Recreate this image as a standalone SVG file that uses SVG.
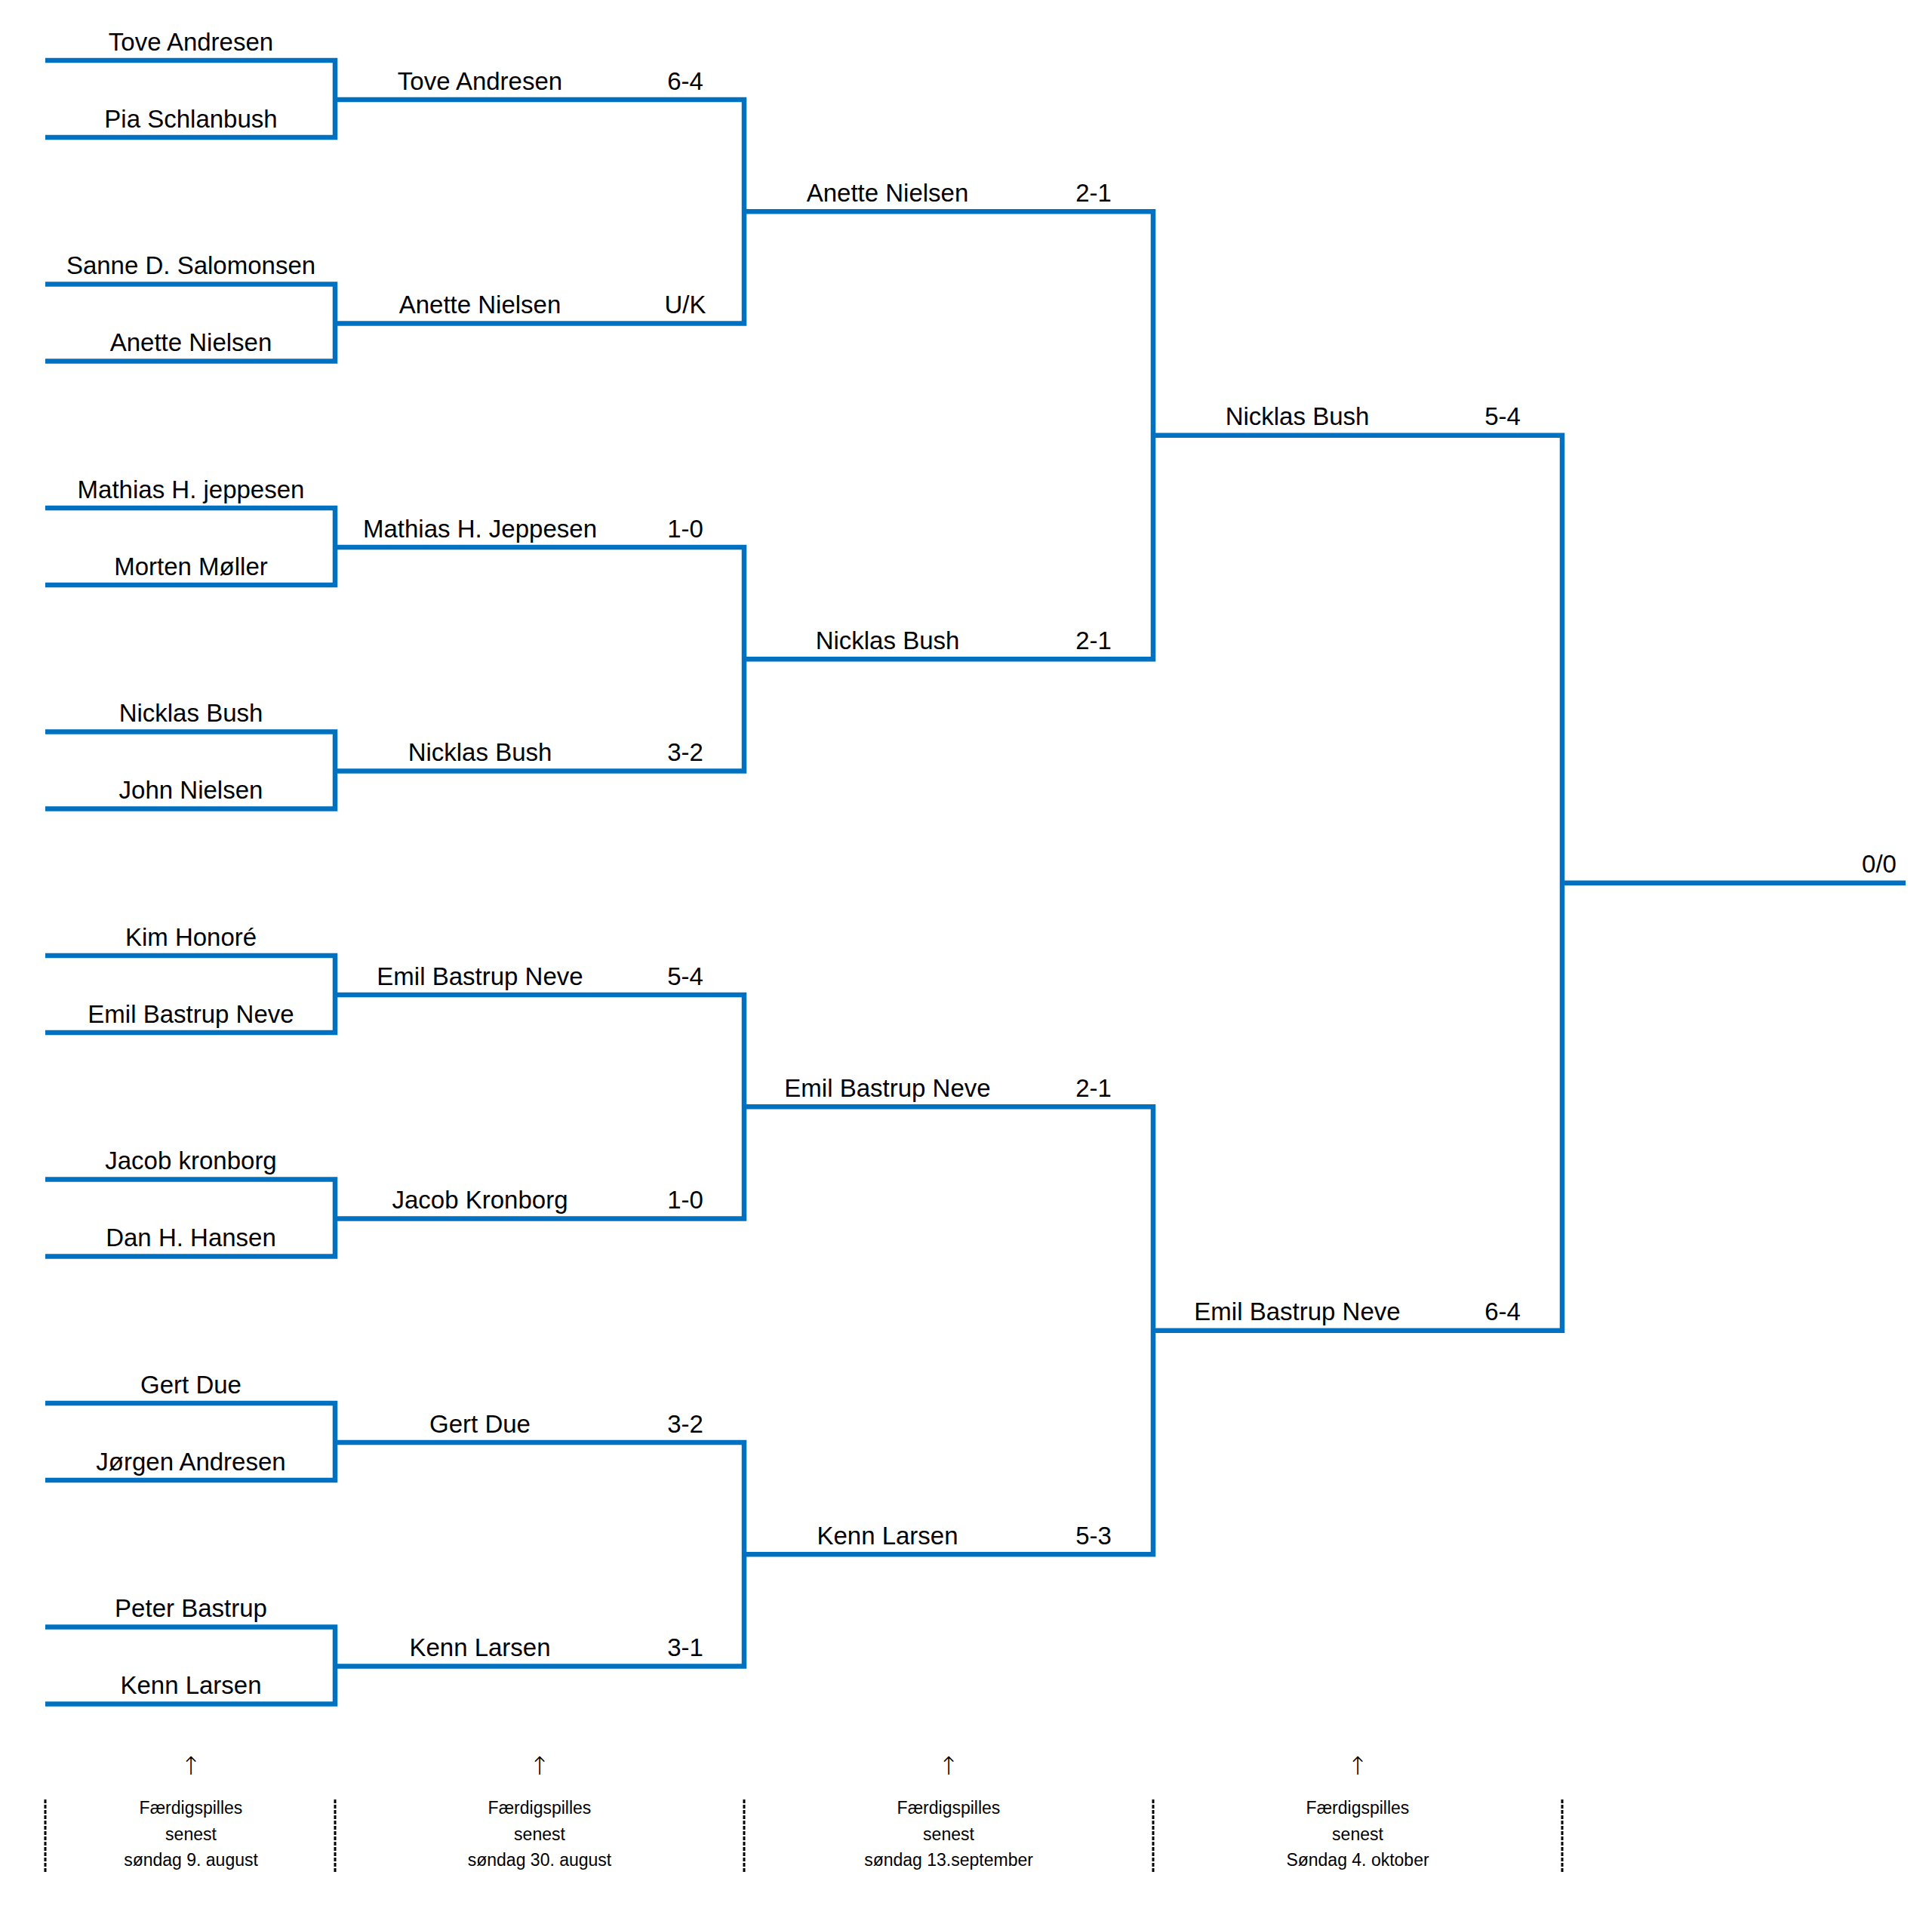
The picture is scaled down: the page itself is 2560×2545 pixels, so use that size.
<svg xmlns="http://www.w3.org/2000/svg" width="2560" height="2545" viewBox="0 0 2560 2545">
<style>
  .ln { fill: none; stroke: #0070C0; stroke-width: 6.5; stroke-linejoin: miter; stroke-linecap: butt; }
  .dl { stroke: #000000; stroke-width: 3; stroke-dasharray: 5 2; }
  text { font-family: "Liberation Sans", Arial, sans-serif; fill: #000000; text-anchor: middle; }
  .nm { font-size: 33px; }
  .ft { font-size: 23px; }
  .ar { font-family: "DejaVu Sans", "Liberation Sans", sans-serif; font-size: 33px; font-weight: 200; }
</style>
<rect x="0" y="0" width="2560" height="2545" fill="#ffffff"/>

<g id="connectors">
  <path class="ln" d="M60,80 H444 V182 H60"/>
  <path class="ln" d="M60,376.5 H444 V478.5 H60"/>
  <path class="ln" d="M60,673 H444 V775 H60"/>
  <path class="ln" d="M60,969.5 H444 V1071.5 H60"/>
  <path class="ln" d="M60,1266 H444 V1368 H60"/>
  <path class="ln" d="M60,1562.5 H444 V1664.5 H60"/>
  <path class="ln" d="M60,1859 H444 V1961 H60"/>
  <path class="ln" d="M60,2155.5 H444 V2257.5 H60"/>
  <path class="ln" d="M444,132 H986 V428.5 H444"/>
  <path class="ln" d="M444,725 H986 V1021.5 H444"/>
  <path class="ln" d="M444,1318 H986 V1614.5 H444"/>
  <path class="ln" d="M444,1911 H986 V2207.5 H444"/>
  <path class="ln" d="M986,280.25 H1528 V873.25 H986"/>
  <path class="ln" d="M986,1466.25 H1528 V2059.25 H986"/>
  <path class="ln" d="M1528,576.75 H2070 V1762.75 H1528"/>
  <path class="ln" d="M2070,1169.75 H2525"/>
</g>

<g id="round1">
  <g id="r1-1"><text class="nm" x="253" y="66.5">Tove Andresen</text><text class="nm" x="253" y="168.5">Pia Schlanbush</text></g>
  <g id="r1-2"><text class="nm" x="253" y="363">Sanne D. Salomonsen</text><text class="nm" x="253" y="465">Anette Nielsen</text></g>
  <g id="r1-3"><text class="nm" x="253" y="659.5">Mathias H. jeppesen</text><text class="nm" x="253" y="761.5">Morten Møller</text></g>
  <g id="r1-4"><text class="nm" x="253" y="956">Nicklas Bush</text><text class="nm" x="253" y="1058">John Nielsen</text></g>
  <g id="r1-5"><text class="nm" x="253" y="1252.5">Kim Honoré</text><text class="nm" x="253" y="1354.5">Emil Bastrup Neve</text></g>
  <g id="r1-6"><text class="nm" x="253" y="1549">Jacob kronborg</text><text class="nm" x="253" y="1651">Dan H. Hansen</text></g>
  <g id="r1-7"><text class="nm" x="253" y="1845.5">Gert Due</text><text class="nm" x="253" y="1947.5">Jørgen Andresen</text></g>
  <g id="r1-8"><text class="nm" x="253" y="2142">Peter Bastrup</text><text class="nm" x="253" y="2244">Kenn Larsen</text></g>
</g>

<g id="round2">
  <g id="r2-1"><text class="nm" x="636" y="118.5">Tove Andresen</text><text class="nm" x="908" y="118.5">6-4</text></g>
  <g id="r2-2"><text class="nm" x="636" y="415">Anette Nielsen</text><text class="nm" x="908" y="415">U/K</text></g>
  <g id="r2-3"><text class="nm" x="636" y="711.5">Mathias H. Jeppesen</text><text class="nm" x="908" y="711.5">1-0</text></g>
  <g id="r2-4"><text class="nm" x="636" y="1008">Nicklas Bush</text><text class="nm" x="908" y="1008">3-2</text></g>
  <g id="r2-5"><text class="nm" x="636" y="1304.5">Emil Bastrup Neve</text><text class="nm" x="908" y="1304.5">5-4</text></g>
  <g id="r2-6"><text class="nm" x="636" y="1601">Jacob Kronborg</text><text class="nm" x="908" y="1601">1-0</text></g>
  <g id="r2-7"><text class="nm" x="636" y="1897.5">Gert Due</text><text class="nm" x="908" y="1897.5">3-2</text></g>
  <g id="r2-8"><text class="nm" x="636" y="2194">Kenn Larsen</text><text class="nm" x="908" y="2194">3-1</text></g>
</g>

<g id="round3">
  <g id="r3-1"><text class="nm" x="1176" y="267">Anette Nielsen</text><text class="nm" x="1449" y="267">2-1</text></g>
  <g id="r3-2"><text class="nm" x="1176" y="860">Nicklas Bush</text><text class="nm" x="1449" y="860">2-1</text></g>
  <g id="r3-3"><text class="nm" x="1176" y="1453">Emil Bastrup Neve</text><text class="nm" x="1449" y="1453">2-1</text></g>
  <g id="r3-4"><text class="nm" x="1176" y="2046">Kenn Larsen</text><text class="nm" x="1449" y="2046">5-3</text></g>
</g>

<g id="round4">
  <g id="r4-1"><text class="nm" x="1719" y="563">Nicklas Bush</text><text class="nm" x="1991" y="563">5-4</text></g>
  <g id="r4-2"><text class="nm" x="1719" y="1749">Emil Bastrup Neve</text><text class="nm" x="1991" y="1749">6-4</text></g>
</g>

<g id="final"><text class="nm" x="2490" y="1156">0/0</text></g>

<g id="footer">
  <g id="dividers">
    <line class="dl" x1="60" y1="2384" x2="60" y2="2481"/>
    <line class="dl" x1="444" y1="2384" x2="444" y2="2481"/>
    <line class="dl" x1="986" y1="2384" x2="986" y2="2481"/>
    <line class="dl" x1="1528" y1="2384" x2="1528" y2="2481"/>
    <line class="dl" x1="2070" y1="2384" x2="2070" y2="2481"/>
  </g>
  <g id="deadline-1"><text class="ar" x="253" y="2351">↑</text><text class="ft" x="253" y="2403">Færdigspilles</text><text class="ft" x="253" y="2438">senest</text><text class="ft" x="253" y="2472">søndag 9. august</text></g>
  <g id="deadline-2"><text class="ar" x="715" y="2351">↑</text><text class="ft" x="715" y="2403">Færdigspilles</text><text class="ft" x="715" y="2438">senest</text><text class="ft" x="715" y="2472">søndag 30. august</text></g>
  <g id="deadline-3"><text class="ar" x="1257" y="2351">↑</text><text class="ft" x="1257" y="2403">Færdigspilles</text><text class="ft" x="1257" y="2438">senest</text><text class="ft" x="1257" y="2472">søndag 13.september</text></g>
  <g id="deadline-4"><text class="ar" x="1799" y="2351">↑</text><text class="ft" x="1799" y="2403">Færdigspilles</text><text class="ft" x="1799" y="2438">senest</text><text class="ft" x="1799" y="2472">Søndag 4. oktober</text></g>
</g>
</svg>
